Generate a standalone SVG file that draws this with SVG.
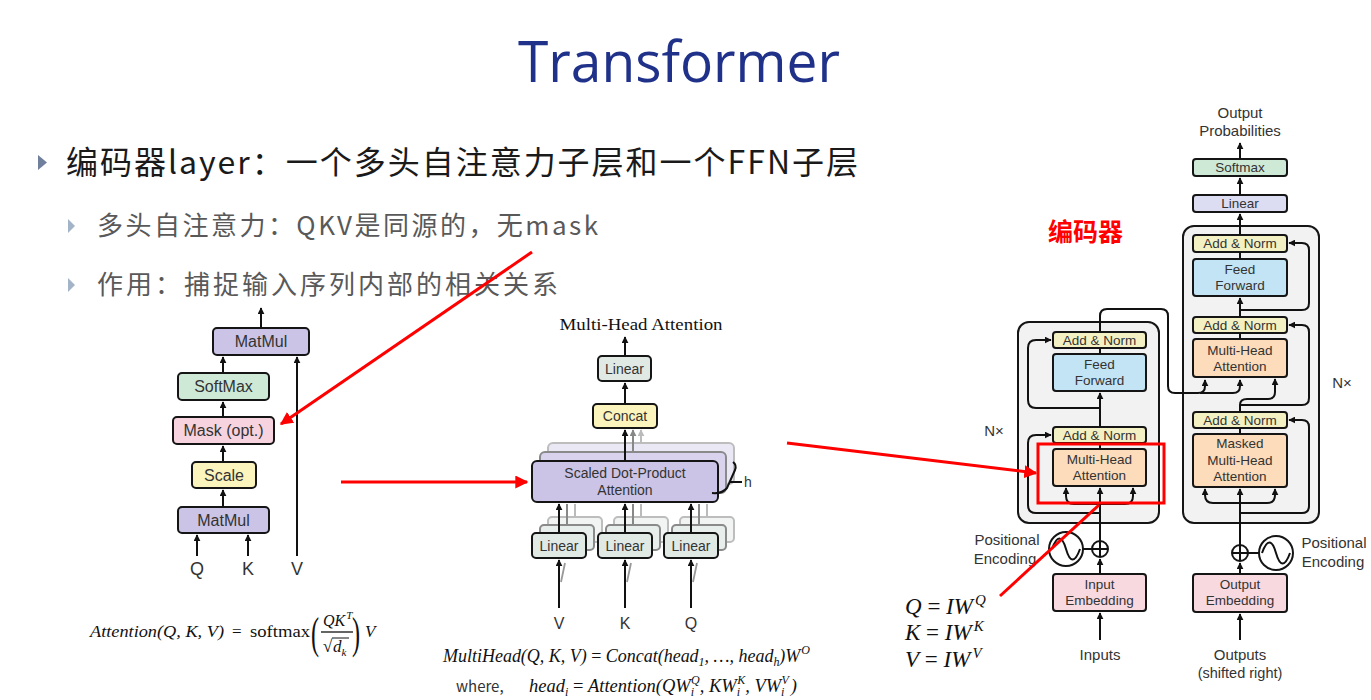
<svg xmlns="http://www.w3.org/2000/svg" width="1371" height="700" viewBox="0 0 1371 700">
<defs>
<marker id="ah" viewBox="0 0 10 10" refX="9" refY="5" markerWidth="7" markerHeight="7" markerUnits="userSpaceOnUse" orient="auto"><path d="M0,0 L10,5 L0,10 z" fill="#111"/></marker>
<marker id="ahg" viewBox="0 0 10 10" refX="9" refY="5" markerWidth="7" markerHeight="7" markerUnits="userSpaceOnUse" orient="auto"><path d="M0,0 L10,5 L0,10 z" fill="#888"/></marker>
<marker id="ahl" viewBox="0 0 10 10" refX="9" refY="5" markerWidth="7" markerHeight="7" markerUnits="userSpaceOnUse" orient="auto"><path d="M0,0 L10,5 L0,10 z" fill="#bbb"/></marker>
<marker id="ar" viewBox="0 0 10 10" refX="9" refY="5" markerWidth="13" markerHeight="13" markerUnits="userSpaceOnUse" orient="auto"><path d="M0,0 L10,5 L0,10 z" fill="#f00"/></marker>
</defs>
<style>
.box{stroke:#151515;stroke-width:2;}
.sh1{stroke:#8a8a8a;stroke-width:2;}
.sh2{stroke:#bdbdbd;stroke-width:2;}
.t{font-family:"Liberation Sans",Arial,sans-serif;fill:#333;text-anchor:middle;}
.ln{fill:none;stroke:#111;stroke-width:2;}
.red{fill:none;stroke:#f00;stroke-width:3;}
.cjk{font-family:"Noto Sans CJK SC","Noto Sans",sans-serif;}
.m{font-family:"Liberation Serif","DejaVu Serif",serif;fill:#111;}
.purple{fill:#cbc4e6;}
.green{fill:#cfe9d7;}
.pink{fill:#f7d3df;}
.yellow{fill:#fbf4bd;}
.gray{fill:#e1e9e5;}
.an{fill:#f3f1c4;}
.ff{fill:#c3e4f4;}
.mha{fill:#fcdcba;}
.emb{fill:#f8d9e0;}
.cont{fill:#f2f2f2;stroke:#151515;stroke-width:2;}
</style>
<rect width="1371" height="700" fill="#fff"/>

<g id="title"><text x="679" y="82" font-family="'Open Sans','Liberation Sans',sans-serif" font-size="56" fill="#1f3189" text-anchor="middle" textLength="322" lengthAdjust="spacingAndGlyphs">Transformer</text></g>

<g id="bullets">
<polygon points="38,155 47,162.5 38,170" fill="#6f7f9c"/>
<text class="cjk" x="66" y="174" font-size="32" fill="#1a1a1a" textLength="792" lengthAdjust="spacing">编码器layer：一个多头自注意力子层和一个FFN子层</text>
<polygon points="68,219 75,226 68,233" fill="#a3b3c8"/>
<text class="cjk" x="97" y="235" font-size="26" fill="#595959" textLength="501" lengthAdjust="spacing">多头自注意力：QKV是同源的，无mask</text>
<polygon points="68,278 75,285 68,292" fill="#a3b3c8"/>
<text class="cjk" x="97" y="294" font-size="26" fill="#595959" textLength="461" lengthAdjust="spacing">作用：捕捉输入序列内部的相关关系</text>
</g>

<!-- Scaled dot-product attention -->
<g id="sdpa-matmul-top"><rect class="box purple" x="213" y="328" width="96" height="27" rx="4"/><text class="t" x="261" y="347" font-size="16">MatMul</text></g>
<g id="sdpa-softmax"><rect class="box green" x="178" y="373" width="91" height="27" rx="4"/><text class="t" x="223.5" y="392" font-size="16">SoftMax</text></g>
<g id="sdpa-mask"><rect class="box pink" x="173" y="417" width="101" height="27" rx="4"/><text class="t" x="223.5" y="436" font-size="16">Mask (opt.)</text></g>
<g id="sdpa-scale"><rect class="box yellow" x="192" y="462" width="64" height="26" rx="4"/><text class="t" x="224" y="481" font-size="16">Scale</text></g>
<g id="sdpa-matmul-bot"><rect class="box purple" x="178" y="507" width="91" height="26" rx="4"/><text class="t" x="223.5" y="526" font-size="16">MatMul</text></g>
<g id="sdpa-labels" class="t" font-size="18">
<text x="197" y="575">Q</text><text x="248" y="575">K</text><text x="297" y="575">V</text>
</g>

<!-- Multi-head attention -->
<g id="mha-title"><text x="641" y="330" font-family="'Liberation Serif',serif" font-size="17" fill="#111" text-anchor="middle" textLength="163" lengthAdjust="spacingAndGlyphs">Multi-Head Attention</text></g>
<g id="mha-linear-top"><rect class="box gray" x="598" y="356" width="53" height="25" rx="4"/><text class="t" x="624.5" y="374" font-size="14">Linear</text></g>
<g id="mha-concat"><rect class="box yellow" x="593" y="404" width="64" height="24" rx="4"/><text class="t" x="625" y="421" font-size="14">Concat</text></g>
<g id="mha-sdpa">
<rect class="sh2" x="548" y="443" width="186" height="41" rx="5" fill="#ebe8f5"/>
<rect class="sh1" x="540" y="452" width="186" height="41" rx="5" fill="#d9d3ee"/>
<rect class="box purple" x="532" y="461" width="186" height="41" rx="5"/>
<text class="t" x="625" y="478" font-size="14">Scaled Dot-Product</text>
<text class="t" x="625" y="495" font-size="14">Attention</text>
</g>
<g id="mha-linear-v">
<rect class="sh2" x="548" y="517" width="54" height="25" rx="4" fill="#f1f4f2"/>
<rect class="sh1" x="540" y="525" width="54" height="25" rx="4" fill="#e8eeeb"/>
<rect class="box gray" x="532" y="533" width="54" height="25" rx="4"/><text class="t" x="559" y="551" font-size="14">Linear</text></g>
<g id="mha-linear-k">
<rect class="sh2" x="614" y="517" width="54" height="25" rx="4" fill="#f1f4f2"/>
<rect class="sh1" x="606" y="525" width="54" height="25" rx="4" fill="#e8eeeb"/>
<rect class="box gray" x="598" y="533" width="54" height="25" rx="4"/><text class="t" x="625" y="551" font-size="14">Linear</text></g>
<g id="mha-linear-q">
<rect class="sh2" x="680" y="517" width="54" height="25" rx="4" fill="#f1f4f2"/>
<rect class="sh1" x="672" y="525" width="54" height="25" rx="4" fill="#e8eeeb"/>
<rect class="box gray" x="664" y="533" width="54" height="25" rx="4"/><text class="t" x="691" y="551" font-size="14">Linear</text></g>
<g id="mha-labels" class="t" font-size="16">
<text x="559" y="629">V</text><text x="625" y="629">K</text><text x="691" y="629">Q</text>
<text x="748" y="487" font-size="14">h</text>
</g>

<!-- Transformer encoder -->
<g id="enc-container"><rect class="cont" x="1018" y="322" width="141" height="201" rx="11"/></g>
<g id="enc-addnorm2"><rect class="box an" x="1053" y="332" width="93" height="16" rx="3"/><text class="t" x="1099.5" y="345" font-size="13.5">Add &amp; Norm</text></g>
<g id="enc-ff"><rect class="box ff" x="1053" y="354" width="93" height="37" rx="3"/><text class="t" x="1099.5" y="369" font-size="13.5">Feed</text><text class="t" x="1099.5" y="385" font-size="13.5">Forward</text></g>
<g id="enc-addnorm1"><rect class="box an" x="1053" y="427" width="93" height="16" rx="3"/><text class="t" x="1099.5" y="440" font-size="13.5">Add &amp; Norm</text></g>
<g id="enc-mha"><rect class="box mha" x="1053" y="449" width="93" height="37" rx="3"/><text class="t" x="1099.5" y="464" font-size="13.5">Multi-Head</text><text class="t" x="1099.5" y="480" font-size="13.5">Attention</text></g>
<g id="enc-embed"><rect class="box emb" x="1053" y="574" width="93" height="37" rx="3"/><text class="t" x="1099.5" y="589" font-size="13.5">Input</text><text class="t" x="1099.5" y="605" font-size="13.5">Embedding</text></g>
<g id="enc-pe">
<circle cx="1066" cy="549" r="17" fill="#fff" stroke="#151515" stroke-width="2"/>
<path class="ln" d="M1052,549 C1057,535 1062,535 1066,549 C1070,563 1075,563 1080,549" stroke-width="1.6"/>
<circle cx="1100" cy="549" r="8" fill="#fff" stroke="#151515" stroke-width="2"/>
<path class="ln" d="M1092,549 H1108 M1100,541 V557" stroke-width="1.6"/>
</g>
<g id="enc-labels" class="t" font-size="15">
<text x="1007" y="545">Positional</text><text x="1005" y="564">Encoding</text>
<text x="1100" y="660">Inputs</text>
<text x="994" y="436">N×</text>
</g>

<!-- Transformer decoder -->
<g id="dec-container"><rect class="cont" x="1183" y="226" width="136" height="297" rx="11"/></g>
<g id="dec-softmax"><rect class="box green" x="1193" y="159" width="94" height="17" rx="3"/><text class="t" x="1240" y="172" font-size="13.5">Softmax</text></g>
<g id="dec-linear"><rect class="box" x="1193" y="195" width="94" height="17" rx="3" fill="#dcdcf3"/><text class="t" x="1240" y="208" font-size="13.5">Linear</text></g>
<g id="dec-addnorm3"><rect class="box an" x="1193" y="235" width="94" height="17" rx="3"/><text class="t" x="1240" y="248" font-size="13.5">Add &amp; Norm</text></g>
<g id="dec-ff"><rect class="box ff" x="1193" y="259" width="94" height="37" rx="3"/><text class="t" x="1240" y="274" font-size="13.5">Feed</text><text class="t" x="1240" y="290" font-size="13.5">Forward</text></g>
<g id="dec-addnorm2"><rect class="box an" x="1193" y="317" width="94" height="16" rx="3"/><text class="t" x="1240" y="330" font-size="13.5">Add &amp; Norm</text></g>
<g id="dec-mha"><rect class="box mha" x="1193" y="339" width="94" height="38" rx="3"/><text class="t" x="1240" y="355" font-size="13.5">Multi-Head</text><text class="t" x="1240" y="371" font-size="13.5">Attention</text></g>
<g id="dec-addnorm1"><rect class="box an" x="1193" y="412" width="94" height="16" rx="3"/><text class="t" x="1240" y="425" font-size="13.5">Add &amp; Norm</text></g>
<g id="dec-masked"><rect class="box mha" x="1193" y="434" width="94" height="53" rx="3"/><text class="t" x="1240" y="448" font-size="13.5">Masked</text><text class="t" x="1240" y="465" font-size="13.5">Multi-Head</text><text class="t" x="1240" y="481" font-size="13.5">Attention</text></g>
<g id="dec-embed"><rect class="box emb" x="1193" y="574" width="94" height="38" rx="3"/><text class="t" x="1240" y="589" font-size="13.5">Output</text><text class="t" x="1240" y="605" font-size="13.5">Embedding</text></g>
<g id="dec-pe">
<circle cx="1276" cy="553" r="17" fill="#fff" stroke="#151515" stroke-width="2"/>
<path class="ln" d="M1262,553 C1267,539 1272,539 1276,553 C1280,567 1285,567 1290,553" stroke-width="1.6"/>
<circle cx="1240" cy="553" r="8" fill="#fff" stroke="#151515" stroke-width="2"/>
<path class="ln" d="M1232,553 H1248 M1240,545 V561" stroke-width="1.6"/>
</g>
<g id="dec-labels" class="t" font-size="15">
<text x="1240" y="118">Output</text><text x="1240" y="136">Probabilities</text>
<text x="1334" y="548">Positional</text><text x="1333" y="567">Encoding</text>
<text x="1240" y="660">Outputs</text><text x="1240" y="678" font-size="14.5">(shifted right)</text>
<text x="1342" y="388">N×</text>
</g>

<g id="connectors">
<!-- SDPA -->
<path class="ln" d="M261,328 V308" marker-end="url(#ah)"/>
<path class="ln" d="M223,373 V357" marker-end="url(#ah)"/>
<path class="ln" d="M223,417 V402" marker-end="url(#ah)"/>
<path class="ln" d="M223,462 V446" marker-end="url(#ah)"/>
<path class="ln" d="M223,507 V490" marker-end="url(#ah)"/>
<path class="ln" d="M197,556 V535" marker-end="url(#ah)"/>
<path class="ln" d="M248,556 V535" marker-end="url(#ah)"/>
<path class="ln" d="M297,556 V357" marker-end="url(#ah)"/>
<!-- MHA -->
<path class="ln" d="M625,356 V337" marker-end="url(#ah)"/>
<path class="ln" d="M625,404 V383" marker-end="url(#ah)"/>
<path d="M641,443 V430" fill="none" stroke="#bbb" stroke-width="2" marker-end="url(#ahl)"/>
<path d="M633,452 V430" fill="none" stroke="#888" stroke-width="2" marker-end="url(#ahg)"/>
<path class="ln" d="M625,461 V430" marker-end="url(#ah)"/>
<path d="M575,517 V504 M641,517 V504 M707,517 V504" fill="none" stroke="#bbb" stroke-width="2"/>
<path d="M567,525 V504 M633,525 V504 M699,525 V504" fill="none" stroke="#888" stroke-width="2"/>
<path class="ln" d="M559,533 V504" marker-end="url(#ah)"/>
<path class="ln" d="M625,533 V504" marker-end="url(#ah)"/>
<path class="ln" d="M691,533 V504" marker-end="url(#ah)"/>
<path d="M561,582 L565,563 M627,582 L631,563 M693,582 L697,563" fill="none" stroke="#999" stroke-width="1.8"/>
<path class="ln" d="M559,608 V560" marker-end="url(#ah)"/>
<path class="ln" d="M625,608 V560" marker-end="url(#ah)"/>
<path class="ln" d="M691,608 V560" marker-end="url(#ah)"/>
<path class="ln" d="M712,493 Q722,494 727,488 L735,470 Q737,465 733,462 M729,482 H742"/>
<!-- Encoder -->
<path class="ln" d="M1100,640 V613" marker-end="url(#ah)"/>
<path class="ln" d="M1100,574 V559" marker-end="url(#ah)"/>
<path class="ln" d="M1083,549 H1092"/>
<path class="ln" d="M1100,541 V488" marker-end="url(#ah)"/>
<path class="ln" d="M1100,504 H1074 Q1066,504 1066,496 V488" marker-end="url(#ah)"/>
<path class="ln" d="M1100,504 H1125 Q1133,504 1133,496 V488" marker-end="url(#ah)"/>
<path class="ln" d="M1100,513 H1036 Q1028,513 1028,505 V443 Q1028,435 1036,435 H1051" marker-end="url(#ah)"/>
<path class="ln" d="M1100,449 V443"/>
<path class="ln" d="M1100,427 V393" marker-end="url(#ah)"/>
<path class="ln" d="M1100,408 H1036 Q1028,408 1028,400 V348 Q1028,340 1036,340 H1051" marker-end="url(#ah)"/>
<path class="ln" d="M1100,354 V348"/>
<path class="ln" d="M1100,332 V316 Q1100,309 1107,309 H1161 Q1168,309 1168,316 V386 Q1168,393 1175,393 H1198 Q1205,393 1205,386 V380" marker-end="url(#ah)"/>
<path class="ln" d="M1200,393 H1233 Q1240,393 1240,386 V380" marker-end="url(#ah)"/>
<!-- Decoder -->
<path class="ln" d="M1240,640 V614" marker-end="url(#ah)"/>
<path class="ln" d="M1240,574 V563" marker-end="url(#ah)"/>
<path class="ln" d="M1248,553 H1259"/>
<path class="ln" d="M1240,545 V489" marker-end="url(#ah)"/>
<path class="ln" d="M1240,503 H1213 Q1205,503 1205,495 V489" marker-end="url(#ah)"/>
<path class="ln" d="M1240,503 H1267 Q1275,503 1275,495 V489" marker-end="url(#ah)"/>
<path class="ln" d="M1240,513 H1302 Q1309,513 1309,506 V427 Q1309,420 1302,420 H1289" marker-end="url(#ah)"/>
<path class="ln" d="M1240,434 V428"/>
<path class="ln" d="M1240,412 V405 Q1240,399 1247,399 H1268 Q1275,399 1275,392 V379" marker-end="url(#ah)"/>
<path class="ln" d="M1240,405 H1302 Q1309,405 1309,398 V332 Q1309,325 1302,325 H1289" marker-end="url(#ah)"/>
<path class="ln" d="M1240,339 V333"/>
<path class="ln" d="M1240,317 V298" marker-end="url(#ah)"/>
<path class="ln" d="M1240,310 H1302 Q1309,310 1309,303 V250 Q1309,243 1302,243 H1289" marker-end="url(#ah)"/>
<path class="ln" d="M1240,259 V252"/>
<path class="ln" d="M1240,235 V214" marker-end="url(#ah)"/>
<path class="ln" d="M1240,195 V178" marker-end="url(#ah)"/>
<path class="ln" d="M1240,159 V143" marker-end="url(#ah)"/>
</g>

<!-- formulas -->
<g id="formula-attention" class="m" font-size="17">
<text x="90" y="637" font-style="italic" textLength="134" lengthAdjust="spacingAndGlyphs">Attention(Q, K, V)</text>
<text x="232" y="637">=</text>
<text x="250" y="637" textLength="60" lengthAdjust="spacingAndGlyphs">softmax</text>
<text x="311" y="648" font-size="44" transform="translate(311,648) scale(0.55,1) translate(-311,-648)">(</text>
<text x="323" y="626" font-style="italic" font-size="16">QK<tspan font-size="11" dx="1" dy="-7">T</tspan></text>
<line x1="321" y1="632" x2="353" y2="632" stroke="#111" stroke-width="1.3"/>
<text x="323" y="652">√</text>
<line x1="332" y1="638" x2="349" y2="638" stroke="#111" stroke-width="1"/>
<text x="333" y="652" font-style="italic">d<tspan font-size="11" dy="4">k</tspan></text>
<text x="352" y="648" font-size="44" transform="translate(352,648) scale(0.55,1) translate(-352,-648)">)</text>
<text x="365" y="637" font-style="italic">V</text>
</g>

<g id="formula-multihead" class="m" font-size="18">
<text x="443" y="662" font-style="italic" textLength="367" lengthAdjust="spacing">MultiHead(Q, K, V) <tspan font-style="normal">=</tspan> Concat(head<tspan font-size="12" dy="4">1</tspan><tspan dy="-4">, …, head</tspan><tspan font-size="12" dy="4">h</tspan><tspan dy="-4">)W</tspan><tspan font-size="12" dx="1" dy="-8">O</tspan></text>
<text x="456" y="692" font-family="'Noto Sans CJK SC','Noto Sans',sans-serif" font-style="normal" font-size="15" fill="#333">where,</text>
<text x="529" y="692" font-style="italic" font-size="18.5">head<tspan font-size="12" dy="4">i</tspan><tspan dy="-4" font-style="normal"> = </tspan><tspan>Attention(QW</tspan><tspan font-size="12" dy="4">i</tspan><tspan font-size="12" dx="-3" dy="-12">Q</tspan><tspan dy="8">, KW</tspan><tspan font-size="12" dy="4">i</tspan><tspan font-size="12" dx="-3" dy="-12">K</tspan><tspan dy="8">, VW</tspan><tspan font-size="12" dy="4">i</tspan><tspan font-size="12" dx="-3" dy="-12">V</tspan><tspan dx="2" dy="8">)</tspan></text>
</g>

<g id="formula-qkv" class="m" font-size="23">
<text x="905" y="614"><tspan font-style="italic">Q</tspan> = <tspan font-style="italic">IW</tspan><tspan font-style="italic" font-size="15" dx="2" dy="-9">Q</tspan></text>
<text x="905" y="640"><tspan font-style="italic">K</tspan> = <tspan font-style="italic">IW</tspan><tspan font-style="italic" font-size="15" dx="2" dy="-9">K</tspan></text>
<text x="905" y="667"><tspan font-style="italic">V</tspan> = <tspan font-style="italic">IW</tspan><tspan font-style="italic" font-size="15" dx="2" dy="-9">V</tspan></text>
</g>

<g id="annotations">
<text class="cjk" x="1048" y="241" font-size="25" font-weight="bold" fill="#f00">编码器</text>
<rect x="1038" y="444" width="126" height="59" fill="none" stroke="#f00" stroke-width="3"/>
<path class="red" d="M532,252 L281,424" marker-end="url(#ar)"/>
<path class="red" d="M341,482 L527,482" marker-end="url(#ar)"/>
<path class="red" d="M787,443 L1036,473" marker-end="url(#ar)"/>
<path class="red" d="M1000,596 L1099,505"/>
</g>
</svg>
